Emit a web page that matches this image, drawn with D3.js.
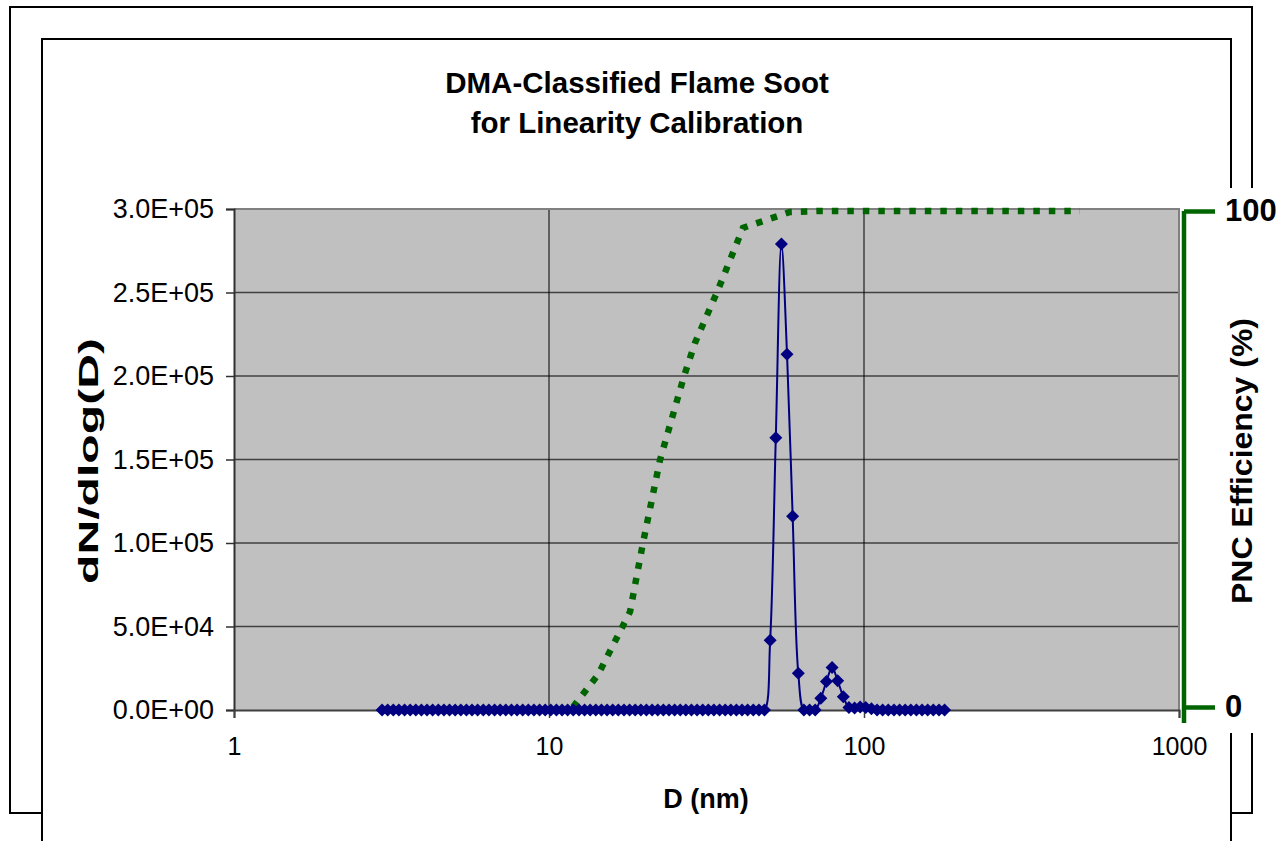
<!DOCTYPE html>
<html>
<head>
<meta charset="utf-8">
<script src="https://cdn.jsdelivr.net/npm/d3@7"></script>
<style>
  html, body { margin: 0; padding: 0; background: #fff; }
  svg { display: block; font-family: "Liberation Sans", Arial, sans-serif; }
</style>
</head>
<body>
<svg id="chart" width="1278" height="841"></svg>
<script>
// Particle diameters of the SMPS channels (nm)
const diameters = [
  2.951, 3.075, 3.204, 3.338, 3.479, 3.625, 3.777, 3.935, 4.100, 4.272,
  4.452, 4.639, 4.833, 5.036, 5.248, 5.468, 5.697, 5.936, 6.186, 6.445,
  6.716, 6.998, 7.292, 7.598, 7.917, 8.249, 8.595, 8.956, 9.332, 9.724,
  10.13, 10.56, 11.00, 11.46, 11.94, 12.45, 12.97, 13.51, 14.08, 14.67,
  15.29, 15.93, 16.60, 17.30, 18.02, 18.78, 19.57, 20.39, 21.25, 22.14,
  23.07, 24.04, 25.05, 26.10, 27.19, 28.33, 29.51, 30.75, 32.04, 33.38,
  34.79, 36.25, 37.77, 39.35, 41.00, 42.72, 44.52, 46.39, 48.33, 50.36,
  52.48, 54.68, 56.97, 59.36, 61.86, 64.45, 67.16, 69.98, 72.92, 75.98,
  79.17, 82.49, 85.95, 89.56, 93.32, 97.24, 101.3, 105.6, 110.0, 114.6,
  119.4, 124.5, 129.7, 135.1, 140.8, 146.7, 152.9, 159.3, 166.0, 173.0,
  180.2
];

// dN/dlog(D) for each channel
const dNdlogD = [
  0, 0, 0, 0, 0, 0, 0, 0, 0, 0,
  0, 0, 0, 0, 0, 0, 0, 0, 0, 0,
  0, 0, 0, 0, 0, 0, 0, 0, 0, 0,
  0, 0, 0, 0, 0, 0, 0, 0, 0, 0,
  0, 0, 0, 0, 0, 0, 0, 0, 0, 0,
  0, 0, 0, 0, 0, 0, 0, 0, 0, 0,
  0, 0, 0, 0, 0, 0, 0, 0, 0, 41700,
  163000, 279000, 213000, 116000, 22000, 0, 0, 0, 7000, 17000,
  25500, 17500, 8000, 1500, 1200, 1800, 1500, 800, 0, 0,
  0, 0, 0, 0, 0, 0, 0, 0, 0, 0,
  0
];

// PNC counting efficiency curve
const effDiameters = [11.92, 14.31, 18.08, 19.88, 22.51, 26.83, 29.07, 34.40, 41.29, 58.24, 72.50, 485.0];
const effPercent   = [0, 6.5, 19.2, 33.1, 49.8, 66.7, 73.4, 84.1, 96.6, 99.8, 100, 100];

// Axis tick values and labels
const xTicks = [1, 10, 100, 1000];
const yTicks = [0, 50000, 100000, 150000, 200000, 250000, 300000];
const yTickLabels = ["0.0E+00", "5.0E+04", "1.0E+05", "1.5E+05", "2.0E+05", "2.5E+05", "3.0E+05"];
const y2Ticks = [0, 100];

const titleLines = ["DMA-Classified Flame Soot", "for Linearity Calibration"];

const svg = d3.select("#chart");

const plot = { left: 234, right: 1179, top: 209, bottom: 710 };

const x = d3.scaleLog().domain([1, 1000]).range([plot.left, plot.right]);
const y = d3.scaleLinear().domain([0, 300000]).range([plot.bottom, plot.top]);
const y2 = d3.scaleLinear().domain([0, 100]).range([707, 211]);

// Outer frames
svg.append("rect").attr("x", 10).attr("y", 7).attr("width", 1242).attr("height", 806)
  .attr("fill", "#fff").attr("stroke", "#000").attr("stroke-width", 2);
svg.append("rect").attr("x", 42).attr("y", 39).attr("width", 1189).attr("height", 900)
  .attr("fill", "#fff").attr("stroke", "#000").attr("stroke-width", 2);

// Plot area background
svg.append("rect")
  .attr("x", plot.left).attr("y", plot.top)
  .attr("width", plot.right - plot.left).attr("height", plot.bottom - plot.top)
  .attr("fill", "#c0c0c0");

// Horizontal gridlines
svg.append("g").selectAll("line").data(yTicks.slice(1)).join("line")
  .attr("x1", plot.left).attr("x2", plot.right)
  .attr("y1", d => y(d)).attr("y2", d => y(d))
  .attr("stroke", "#404040").attr("stroke-width", 1.5);

// Vertical gridlines
svg.append("g").selectAll("line").data(xTicks.slice(1, -1)).join("line")
  .attr("x1", d => x(d)).attr("x2", d => x(d))
  .attr("y1", plot.top).attr("y2", plot.bottom)
  .attr("stroke", "#000").attr("stroke-width", 1);

// Plot area border (top and right)
svg.append("path")
  .attr("d", `M${plot.left},${plot.top}H${plot.right}V${plot.bottom}`)
  .attr("fill", "none").attr("stroke", "#808080").attr("stroke-width", 2);

// Left axis
const yAxis = d3.axisLeft(y).tickValues(yTicks)
  .tickFormat((d, i) => yTickLabels[i]).tickSize(8).tickPadding(12);
const gy = svg.append("g").attr("transform", `translate(${plot.left},0)`).call(yAxis);
gy.select(".domain").attr("stroke", "#303030").attr("stroke-width", 2);
gy.selectAll(".tick line").attr("stroke", "#303030").attr("stroke-width", 1.5);
gy.selectAll("text").attr("font-size", 27).attr("fill", "#000")
  .attr("font-family", "'Liberation Sans', Arial, sans-serif");

// Bottom axis
const xAxis = d3.axisBottom(x).tickValues(xTicks).tickFormat(d3.format("d"))
  .tickSize(8).tickPadding(19);
const gx = svg.append("g").attr("transform", `translate(0,${plot.bottom})`).call(xAxis);
gx.select(".domain").attr("stroke", "#404040").attr("stroke-width", 2);
gx.selectAll(".tick line").attr("stroke", "#404040").attr("stroke-width", 1.5);
gx.selectAll("text").attr("font-size", 25).attr("fill", "#000")
  .attr("font-family", "'Liberation Sans', Arial, sans-serif");

// Efficiency curve (dotted, secondary axis)
const effData = effDiameters.map((d, i) => [d, effPercent[i]]);
svg.append("path")
  .datum(effData)
  .attr("fill", "none")
  .attr("stroke", "#006400")
  .attr("stroke-width", 6.5)
  .attr("stroke-dasharray", "6.5,9")
  .attr("d", d3.line().x(d => x(d[0])).y(d => y2(d[1])).curve(d3.curveLinear));

// Size distribution line
const distData = diameters.map((d, i) => [d, dNdlogD[i]]);
svg.append("path")
  .datum(distData)
  .attr("fill", "none")
  .attr("stroke", "#000080")
  .attr("stroke-width", 2)
  .attr("d", d3.line().x(d => x(d[0])).y(d => y(d[1])).curve(d3.curveCatmullRom));

// Diamond markers
svg.append("g").selectAll("path").data(distData).join("path")
  .attr("transform", d => `translate(${x(d[0])},${y(d[1])})`)
  .attr("d", "M0,-6.5L6.5,0L0,6.5L-6.5,0Z")
  .attr("fill", "#000080");

// Secondary axis panel
svg.append("rect").attr("x", 1181).attr("y", 188).attr("width", 97).attr("height", 545)
  .attr("fill", "#fff");
const y2Axis = d3.axisRight(y2).tickValues(y2Ticks).tickSize(31).tickPadding(10);
const gy2 = svg.append("g").attr("transform", "translate(1184,0)").call(y2Axis);
gy2.select(".domain").attr("d", `M0,${y2(100)}V723`)
  .attr("stroke", "#006400").attr("stroke-width", 4.5);
gy2.selectAll(".tick line").attr("stroke", "#006400").attr("stroke-width", 4.5);
gy2.selectAll("text").attr("font-size", 31).attr("font-weight", "bold").attr("fill", "#000")
  .attr("font-family", "'Liberation Sans', Arial, sans-serif");

// Title
svg.append("g").selectAll("text").data(titleLines).join("text")
  .attr("x", 637).attr("y", (d, i) => 93 + i * 40)
  .attr("text-anchor", "middle")
  .attr("font-size", 29.5).attr("font-weight", "bold")
  .text(d => d);

// Axis titles
svg.append("text")
  .attr("x", 706).attr("y", 808)
  .attr("text-anchor", "middle")
  .attr("font-size", 27).attr("font-weight", "bold")
  .text("D (nm)");

svg.append("text")
  .attr("transform", "translate(98,461) rotate(-90)")
  .attr("text-anchor", "middle")
  .attr("font-size", 27).attr("font-weight", "bold")
  .attr("textLength", 246).attr("lengthAdjust", "spacingAndGlyphs")
  .text("dN/dlog(D)");

svg.append("text")
  .attr("transform", "translate(1252,461) rotate(-90)")
  .attr("text-anchor", "middle")
  .attr("font-size", 29).attr("font-weight", "bold")
  .attr("textLength", 286).attr("lengthAdjust", "spacingAndGlyphs")
  .text("PNC Efficiency (%)");
</script>
</body>
</html>
